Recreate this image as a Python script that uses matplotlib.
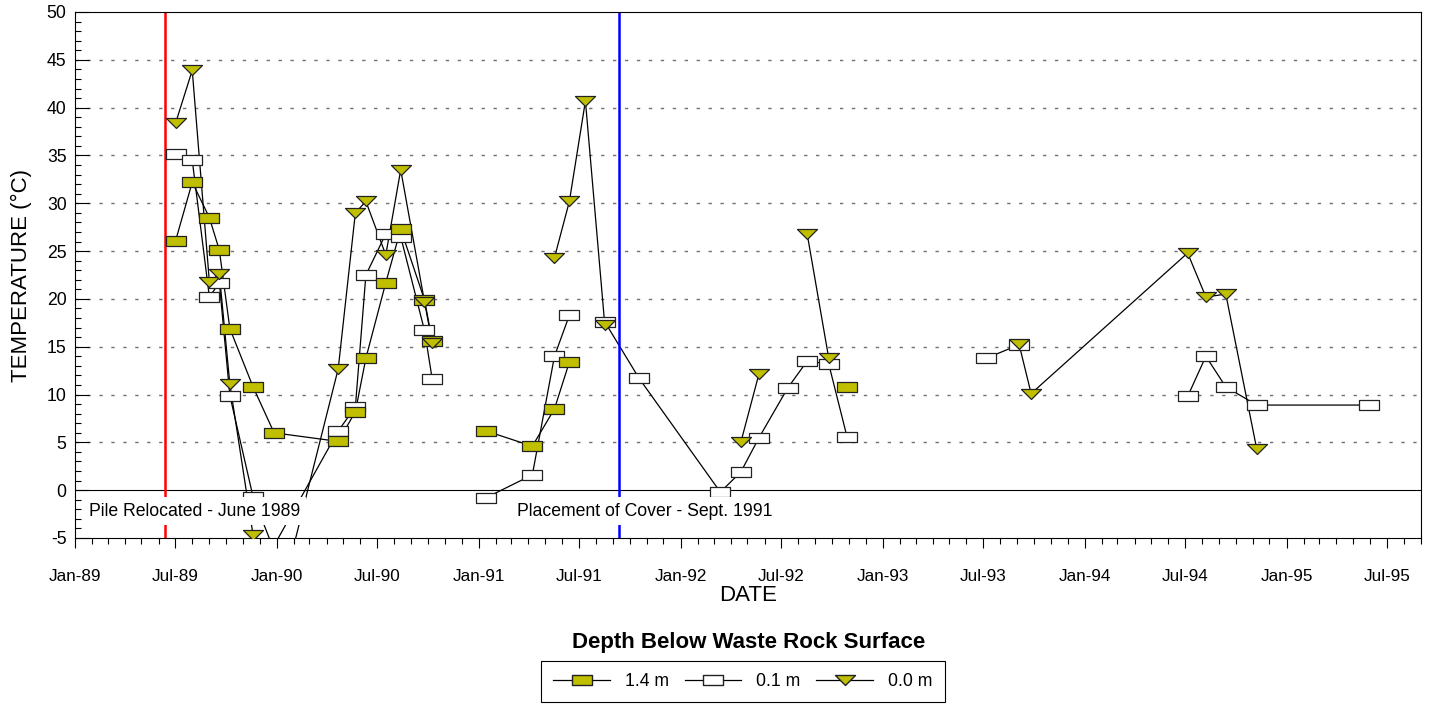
import numpy as np
import pandas as pd
import matplotlib
matplotlib.use("Agg")
import matplotlib.pyplot as plt
import matplotlib.dates as mdates
from matplotlib.lines import Line2D
from matplotlib.path import Path

plt.rcParams["font.family"] = ["Liberation Sans", "DejaVu Sans"]
plt.rcParams["axes.unicode_minus"] = False

# 1.4 m below surface (filled boxes); run = connected line piece
dates_14 = ["1989-07-02", "1989-08-01", "1989-09-01", "1989-09-19", "1989-10-08",
            "1989-11-19", "1989-12-27", "1990-04-22", "1990-05-23", "1990-06-11",
            "1990-07-17", "1990-08-13", "1990-09-25", "1990-10-09",
            "1991-01-14", "1991-04-08", "1991-05-18", "1991-06-14",
            "1992-10-28"]
temp_14 = [26.1, 32.2, 28.5, 25.1, 16.9, 10.8, 6.0, 5.1, 8.2, 13.8,
           21.7, 27.3, 19.9, 15.6,
           6.2, 4.6, 8.5, 13.4,
           10.8]
run_14 = [0] * 14 + [1] * 4 + [2]

# 0.1 m below surface (open boxes)
dates_01 = ["1989-07-02", "1989-08-01", "1989-09-01", "1989-09-19", "1989-10-08",
            "1989-11-19", "1989-12-25", "1990-04-22", "1990-05-23", "1990-06-11",
            "1990-07-17", "1990-08-13", "1990-09-25", "1990-10-09",
            "1991-01-14", "1991-04-08", "1991-05-18", "1991-06-14",
            "1991-08-17", "1991-10-18", "1992-03-13", "1992-04-19", "1992-05-22",
            "1992-07-13", "1992-08-17", "1992-09-25", "1992-10-28",
            "1993-07-07", "1993-09-04",
            "1994-07-06", "1994-08-08", "1994-09-13", "1994-11-08", "1995-05-30"]
temp_01 = [35.1, 34.5, 20.2, 21.7, 9.9, -0.7, -6.0, 6.2, 8.7, 22.5,
           26.8, 26.5, 16.7, 11.6,
           -0.8, 1.6, 14.0, 18.3,
           17.6, 11.7, -0.2, 1.9, 5.5, 10.7, 13.5, 13.2, 5.6,
           13.8, 15.2,
           9.8, 14.0, 10.8, 8.9, 8.9]
run_01 = [0] * 14 + [1] * 4 + [2] * 9 + [3] * 2 + [4] * 5

# surface, 0.0 m (triangles)
dates_00 = ["1989-07-02", "1989-08-01", "1989-09-01", "1989-09-19", "1989-10-08",
            "1989-11-19", "1989-12-27", "1990-04-22", "1990-05-23", "1990-06-11",
            "1990-07-17", "1990-08-13", "1990-09-25", "1990-10-09",
            "1991-05-18", "1991-06-14", "1991-07-13", "1991-08-17",
            "1992-04-19", "1992-05-22",
            "1992-08-17", "1992-09-25",
            "1993-09-04", "1993-09-26", "1994-07-06", "1994-08-08", "1994-09-13",
            "1994-11-08"]
temp_00 = [38.4, 43.9, 21.8, 22.6, 11.1, -4.7, -14.0, 12.7, 29.0, 30.2,
           24.6, 33.5, 19.7, 15.4,
           24.3, 30.2, 40.7, 17.3,
           5.0, 12.2,
           26.8, 13.8,
           15.3, 10.1, 24.8, 20.2, 20.5, 4.3]
run_00 = [0] * 14 + [1] * 4 + [2] * 2 + [3] * 2 + [4] * 6

events = ["1989-06-12", "1991-09-11"]
event_labels = ["Pile Relocated - June 1989", "Placement of Cover - Sept. 1991"]
event_text_x = ["1989-01-26", "1991-03-12"]
event_colors = ["#ff0000", "#0000ff"]

olive = "#bfbf00"
rect = Path([(-1, -0.5), (1, -0.5), (1, 0.5), (-1, 0.5), (-1, -0.5)], closed=True)
tri = Path([(-1, 0.5), (1, 0.5), (0, -0.5), (-1, 0.5)], closed=True)
ms = 14.4

series = [
    ("0.1 m", dates_01, temp_01, run_01, rect, "white"),
    ("1.4 m", dates_14, temp_14, run_14, rect, olive),
    ("0.0 m", dates_00, temp_00, run_00, tri, olive),
]

fig = plt.figure(figsize=(14.34, 7.07), dpi=100)
ax = fig.add_axes([75 / 1434, 1 - 538 / 707, 1346 / 1434, 526 / 707])

ax.set_xlim(pd.Timestamp("1989-01-01"), pd.Timestamp("1995-09-01"))
ax.set_ylim(-5, 50)

# grid + zero line
for v in range(5, 50, 5):
    ax.axhline(v, color="#707070", lw=1.0, dashes=(2.4, 6.2), zorder=1)
ax.axhline(0, color="black", lw=0.8, zorder=1)

# lines first, then markers on top
for name, d, t, r, mk, fc in series:
    d = pd.to_datetime(d)
    t = np.array(t)
    r = np.array(r)
    for k in np.unique(r):
        m = r == k
        ax.plot(d[m], t[m], color="black", lw=0.9, zorder=2)
for name, d, t, r, mk, fc in series:
    ax.plot(pd.to_datetime(d), t, ls="none", marker=mk, ms=ms, mfc=fc,
            mec="#222222", mew=0.9, zorder=3)

for ev, lab, tx, c in zip(events, event_labels, event_text_x, event_colors):
    ax.axvline(pd.Timestamp(ev), color=c, lw=1.8, zorder=2.5)
    ax.text(pd.Timestamp(tx), -2.2, lab, fontsize=12.7, va="center", ha="left",
            zorder=5, bbox=dict(facecolor="white", edgecolor="none", pad=4))

ax.xaxis.set_major_locator(mdates.MonthLocator(bymonth=[1, 7]))
ax.xaxis.set_minor_locator(mdates.MonthLocator())
ax.xaxis.set_major_formatter(mdates.DateFormatter("%b-%y"))
ax.set_yticks(range(-5, 51, 5))
ax.set_yticks(range(-5, 51, 1), minor=True)

ax.tick_params(axis="x", which="major", direction="out", length=7, width=0.8,
               labelsize=12.3, pad=15)
ax.tick_params(axis="x", which="minor", direction="out", length=4.5, width=0.8)
ax.tick_params(axis="y", which="major", direction="in", length=10, width=0.8,
               labelsize=12.7, pad=6)
ax.tick_params(axis="y", which="minor", direction="in", length=4.5, width=0.8)
for s in ax.spines.values():
    s.set_linewidth(0.8)

ax.set_xlabel("DATE", fontsize=16, labelpad=1)
ax.set_ylabel("TEMPERATURE (\u00b0C)", fontsize=16, labelpad=11)

handles = [
    Line2D([], [], color="black", lw=0.9, marker=rect, ms=ms, mfc=olive, mec="#222222"),
    Line2D([], [], color="black", lw=0.9, marker=rect, ms=ms, mfc="white", mec="#222222"),
    Line2D([], [], color="black", lw=0.9, marker=tri, ms=ms, mfc=olive, mec="#222222"),
]
fig.text(0.522, 0.091, "Depth Below Waste Rock Surface", fontsize=16,
         fontweight="bold", ha="center", va="center")
leg = fig.legend(handles, ["1.4 m", "0.1 m", "0.0 m"], loc="center",
                 bbox_to_anchor=(0.518, 0.036), ncol=3, fontsize=12.7,
                 handlelength=3.2, handletextpad=0.85, columnspacing=0.9,
                 borderpad=0.7, fancybox=False, edgecolor="black", framealpha=1)
leg.get_frame().set_linewidth(0.8)

fig.savefig("out.png", dpi=100)
